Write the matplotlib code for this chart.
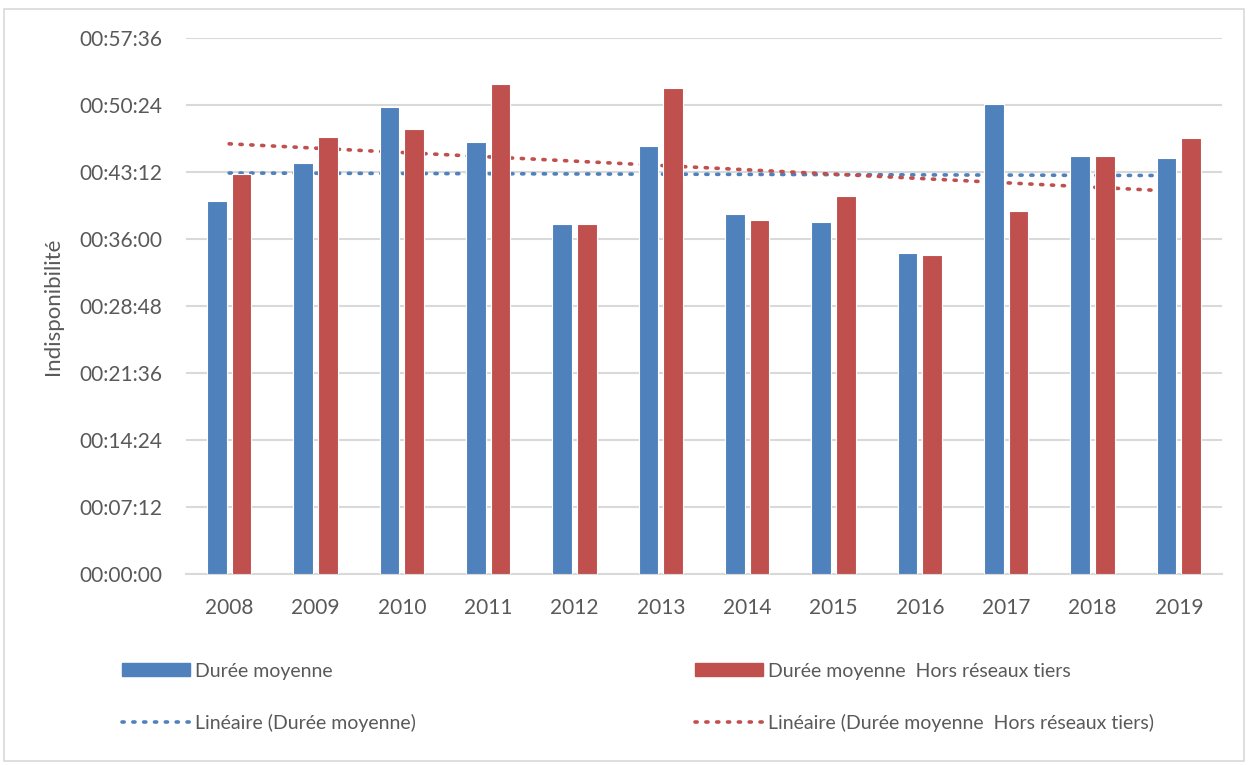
import numpy as np
import matplotlib
matplotlib.use("Agg")
import matplotlib.pyplot as plt
from matplotlib.ticker import FuncFormatter, MultipleLocator
from matplotlib.patches import Rectangle, Patch
from matplotlib.lines import Line2D

plt.rcParams['font.family'] = ['Lato', 'DejaVu Sans']

years = ['2008', '2009', '2010', '2011', '2012', '2013',
         '2014', '2015', '2016', '2017', '2018', '2019']
duree_moyenne = ['00:40:07', '00:44:07', '00:50:07', '00:46:23', '00:37:39', '00:45:57',
                 '00:38:41', '00:37:47', '00:34:27', '00:50:26', '00:44:55', '00:44:40']
duree_hors_tiers = ['00:42:55', '00:46:55', '00:47:49', '00:52:35', '00:37:39', '00:52:14',
                    '00:38:00', '00:40:37', '00:34:19', '00:38:58', '00:44:55', '00:46:53']

label_a = 'Durée moyenne'
label_b = 'Durée moyenne  Hors réseaux tiers'


def to_seconds(s):
    h, m, sec = s.split(':')
    return int(h) * 3600 + int(m) * 60 + int(sec)


def hms(v, pos=None):
    v = int(round(v))
    return f"{v // 3600:02d}:{(v % 3600) // 60:02d}:{v % 60:02d}"


a = np.array([to_seconds(s) for s in duree_moyenne])
b = np.array([to_seconds(s) for s in duree_hors_tiers])
x = np.arange(len(years))

blue = '#4F81BD'
red = '#C0504D'
txt = '#595959'
grid = '#D9D9D9'

fig = plt.figure(figsize=(12.48, 7.65), dpi=100)
ax = fig.add_axes([186 / 1248, 1 - 574.3 / 765, (1222 - 186) / 1248, (574.3 - 37.7) / 765])

w = 0.225
off = 0.143
ax.bar(x - off, a, w, color=blue, edgecolor='white', linewidth=0.8, zorder=3)
ax.bar(x + off, b, w, color=red, edgecolor='white', linewidth=0.8, zorder=3)

# linear trend lines (Excel "Linéaire")
dots = (0, (0.6, 2.4))
for vals, col in [(a, blue), (b, red)]:
    k, c = np.polyfit(x, vals, 1)
    ax.plot(x, k * x + c, color=col, linewidth=2.6, linestyle=dots,
            dash_capstyle='round', zorder=2)

ax.set_xlim(-0.5, len(years) - 0.5)
ax.set_ylim(0, 3456)
ax.yaxis.set_major_locator(MultipleLocator(432))
ax.yaxis.set_major_formatter(FuncFormatter(hms))
ax.set_xticks(x)
ax.set_xticklabels(years)
ax.grid(axis='y', color=grid, linewidth=1.5, zorder=0)
ax.set_axisbelow(True)
for s in ['top', 'right', 'left']:
    ax.spines[s].set_visible(False)
ax.spines['bottom'].set_color(grid)
ax.spines['bottom'].set_linewidth(1.5)
ax.tick_params(axis='both', length=0, labelsize=15, colors=txt)
ax.tick_params(axis='y', pad=17)
ax.tick_params(axis='x', pad=17)
ax.set_ylabel('Indisponibilité', fontsize=16, color=txt, labelpad=12)

# legend in two separate columns
leg_kw = dict(frameon=False, fontsize=14, labelcolor=txt, handlelength=3.5,
              handleheight=0.6, handletextpad=0.3, labelspacing=1.75, loc='upper left')
h1 = [Patch(color=blue), Line2D([], [], color=blue, lw=2.6, ls=dots, dash_capstyle='round')]
h2 = [Patch(color=red), Line2D([], [], color=red, lw=2.6, ls=dots, dash_capstyle='round')]
fig.legend(h1, [label_a, f'Linéaire ({label_a})'], bbox_to_anchor=(104 / 1248, 1 - 645 / 765), **leg_kw)
fig.legend(h2, [label_b, f'Linéaire ({label_b})'], bbox_to_anchor=(677 / 1248, 1 - 645 / 765), **leg_kw)

fig.patches.append(Rectangle((4 / 1248, 4 / 765), 1240 / 1248, 752 / 765, transform=fig.transFigure,
                             fill=False, edgecolor='#D9D9D9', linewidth=1.2))

fig.savefig('out.png', dpi=100)
